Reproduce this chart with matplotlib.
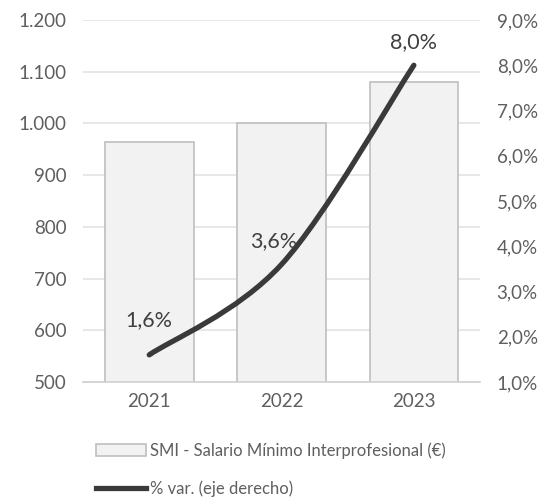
import numpy as np
import matplotlib.pyplot as plt
from matplotlib.path import Path
from matplotlib.patches import PathPatch, Patch
from matplotlib.lines import Line2D
from matplotlib.ticker import FuncFormatter

plt.rcParams['font.family'] = ['Lato', 'DejaVu Sans']

years = ["2021", "2022", "2023"]
smi = [965, 1000, 1080]
pct_var = [1.6, 3.6, 8.0]
pct_labels = ["1,6%", "3,6%", "8,0%"]

label_grey = "#5f5f5f"
text_dark = "#404040"


def smooth_path(xs, ys):
    """Bezier path through the points (Catmull-Rom style, like Excel's smoothed line)"""
    pts = np.column_stack([xs, ys]).astype(float)
    padded = np.vstack([pts[0], pts, pts[-1]])
    verts = [pts[0]]
    codes = [Path.MOVETO]
    for i in range(len(pts) - 1):
        p0, p1, p2, p3 = padded[i], padded[i + 1], padded[i + 2], padded[i + 3]
        verts += [p1 + (p2 - p0) / 6, p2 - (p3 - p1) / 6, p2]
        codes += [Path.CURVE4] * 3
    return Path(verts, codes)


fig = plt.figure(figsize=(5.43, 5.01), dpi=100)
ax = fig.add_axes([0.153, 0.2375, 0.731, 0.7226])
x = np.arange(len(years))

ax.bar(x, smi, width=0.67, color="#f2f2f2", edgecolor="#bfbfbf", linewidth=1.2, zorder=2)
ax.set_ylim(500, 1200)
ax.set_yticks(np.arange(500, 1201, 100))
ax.yaxis.set_major_formatter(FuncFormatter(lambda v, _: f"{int(v):,}".replace(",", ".")))
ax.set_xlim(-0.5, 2.5)
ax.set_xticks(x)
ax.set_xticklabels(years)
ax.grid(axis="y", color="#e3e3e3", linewidth=1.2, zorder=0)
for s in ["left", "right", "top"]:
    ax.spines[s].set_visible(False)
ax.spines["bottom"].set_color("#d0d0d0")
ax.spines["bottom"].set_linewidth(1.2)
ax.tick_params(axis="both", length=0, labelsize=13.5, labelcolor=label_grey)
ax.tick_params(axis="y", pad=12)
ax.tick_params(axis="x", pad=8)

ax2 = ax.twinx()
ax2.set_ylim(1.0, 9.0)
ax2.set_yticks(np.arange(1, 10, 1))
ax2.yaxis.set_major_formatter(FuncFormatter(lambda v, _: f"{v:.1f}%".replace(".", ",")))
for s in ax2.spines.values():
    s.set_visible(False)
ax2.tick_params(axis="y", length=0, labelsize=13.5, labelcolor=label_grey, pad=12)

curve = PathPatch(smooth_path(x, pct_var), facecolor="none", edgecolor="#3a3a3a",
                  linewidth=3.8, capstyle="round", zorder=3)
ax2.add_patch(curve)

offsets = [(0, 25), (-6, 17), (0, 17)]
for xi, yi, lab, off in zip(x, pct_var, pct_labels, offsets):
    ax2.annotate(lab, (xi, yi), xytext=off, textcoords="offset points",
                 ha="center", va="center", fontsize=15.5, color=text_dark)

handles = [
    Patch(facecolor="#f2f2f2", edgecolor="#bfbfbf", linewidth=1.2),
    Line2D([0], [0], color="#3a3a3a", linewidth=3.8),
]
fig.legend(handles, ["SMI - Salario Mínimo Interprofesional (€)", "% var. (eje derecho)"],
           loc="lower left", bbox_to_anchor=(0.15, -0.022), frameon=False,
           fontsize=12, labelcolor=label_grey, handlelength=3.0, handleheight=0.7,
           handletextpad=0.2, labelspacing=1.3)

fig.savefig("out.png", dpi=100)
